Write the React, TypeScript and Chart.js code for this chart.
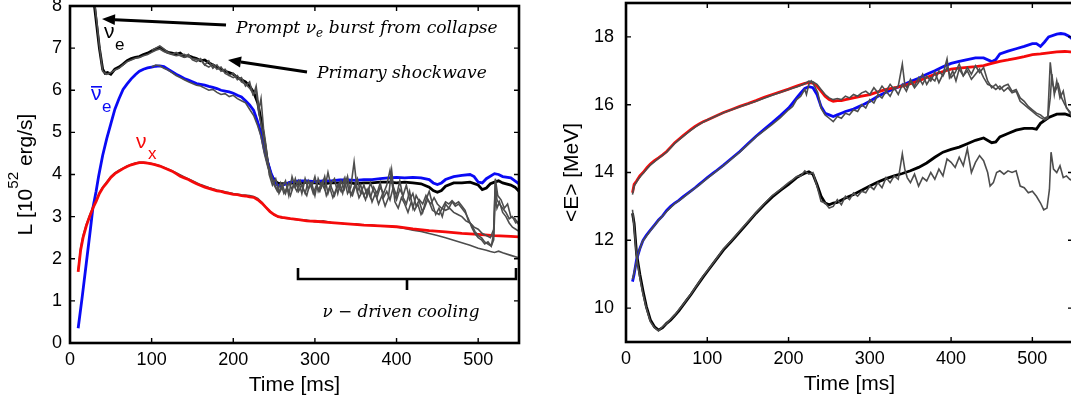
import React, { useEffect, useRef } from "react";
import { Chart, registerables } from "chart.js";

Chart.register(...registerables);

type Pt = [number, number];

// ---------- axes ----------
const X_MIN = 0;
const X_MAX = 550;
const X_TICKS = [0, 100, 200, 300, 400, 500];
const L_Y_MIN = 0;
const L_Y_MAX = 8;
const L_Y_TICKS = [0, 1, 2, 3, 4, 5, 6, 7, 8];
const R_Y_MIN = 9;
const R_Y_MAX = 19;
const R_Y_TICKS = [10, 12, 14, 16, 18];

// ---------- left panel: luminosity L [10^52 erg/s] ----------
const L_NUE: Pt[] = [[28,8.6],[30,8.0],[33,7.5],[36,7.0],[40,6.5],[43,6.4],[46,6.42],[50,6.38],[55,6.5],[60,6.55],[65,6.62],[70,6.7],[75,6.75],[80,6.78],[85,6.8],[90,6.85],[95,6.88],[100,6.93],[105,6.98],[110,7.02],[115,6.95],[120,6.9],[125,6.88],[130,6.85],[135,6.88],[140,6.8],[145,6.82],[150,6.78],[155,6.75],[160,6.7],[165,6.72],[170,6.65],[175,6.6],[180,6.55],[185,6.5],[190,6.45],[195,6.42],[200,6.38],[205,6.3],[210,6.25],[215,6.2],[220,6.1],[225,5.95],[230,5.7],[234,5.3],[238,4.8],[242,4.3],[246,4.0],[250,3.88],[254,3.8],[258,3.78],[262,3.78],[270,3.8],[280,3.78],[290,3.82],[300,3.8],[310,3.78],[320,3.8],[330,3.8],[340,3.82],[350,3.78],[360,3.8],[370,3.8],[380,3.82],[390,3.82],[400,3.8],[410,3.82],[420,3.8],[430,3.78],[440,3.7],[445,3.62],[450,3.58],[455,3.62],[460,3.72],[470,3.8],[480,3.8],[490,3.82],[500,3.75],[505,3.64],[510,3.68],[515,3.78],[520,3.82],[525,3.85],[530,3.8],[540,3.75],[545,3.7],[550,3.6]];

const L_NUEBAR: Pt[] = [[10,0.35],[15,1.1],[20,1.9],[25,2.7],[28,3.2],[32,3.6],[35,3.95],[40,4.45],[45,4.85],[50,5.2],[55,5.55],[60,5.8],[65,6.02],[70,6.15],[75,6.27],[80,6.37],[85,6.45],[90,6.5],[95,6.53],[100,6.55],[105,6.57],[110,6.58],[115,6.56],[120,6.5],[125,6.44],[130,6.38],[135,6.33],[140,6.28],[145,6.24],[150,6.2],[155,6.16],[160,6.14],[165,6.12],[170,6.09],[175,6.07],[180,6.04],[185,6.0],[190,5.98],[195,5.96],[200,5.93],[205,5.88],[210,5.84],[215,5.75],[220,5.65],[225,5.52],[230,5.24],[234,4.98],[238,4.6],[242,4.3],[246,4.05],[250,3.85],[254,3.75],[258,3.72],[262,3.76],[270,3.82],[280,3.85],[290,3.85],[300,3.83],[310,3.85],[320,3.85],[330,3.87],[340,3.87],[350,3.86],[360,3.88],[370,3.88],[380,3.9],[390,3.92],[400,3.93],[410,3.92],[420,3.93],[430,3.92],[440,3.88],[445,3.8],[450,3.76],[455,3.8],[460,3.88],[470,3.95],[480,3.98],[490,4.0],[495,3.95],[500,3.82],[505,3.8],[510,3.9],[520,4.02],[525,4.0],[530,3.95],[540,3.92],[545,3.85],[550,3.78]];

const L_NUX: Pt[] = [[10,1.69],[13,2.2],[16,2.5],[20,2.78],[24,3.0],[28,3.2],[32,3.36],[36,3.55],[40,3.68],[45,3.8],[50,3.93],[55,4.02],[60,4.08],[65,4.14],[70,4.19],[75,4.23],[80,4.26],[85,4.28],[90,4.28],[95,4.27],[100,4.25],[105,4.23],[110,4.2],[115,4.16],[120,4.12],[125,4.08],[130,4.02],[135,3.96],[140,3.92],[145,3.88],[150,3.83],[155,3.78],[160,3.74],[165,3.7],[170,3.67],[175,3.64],[180,3.61],[185,3.6],[190,3.57],[195,3.55],[200,3.53],[205,3.52],[210,3.5],[215,3.49],[220,3.47],[225,3.46],[230,3.4],[235,3.32],[240,3.22],[245,3.12],[250,3.05],[255,3.0],[260,2.98],[270,2.95],[280,2.93],[290,2.9],[300,2.89],[320,2.86],[340,2.83],[360,2.8],[380,2.78],[400,2.76],[420,2.71],[440,2.67],[460,2.64],[480,2.6],[500,2.58],[520,2.55],[540,2.53],[550,2.52]];

// other models (gray)
const L_G_NUE_A: Pt[] = [[30,8.1],[33,7.6],[36,7.05],[40,6.45],[45,6.38],[50,6.42],[55,6.48],[60,6.52],[65,6.6],[70,6.68],[75,6.72],[80,6.76],[85,6.78],[90,6.82],[95,6.85],[100,6.9],[105,6.95],[110,6.98],[115,6.92],[120,6.88],[130,6.82],[140,6.85],[150,6.75],[160,6.72],[165,6.6],[170,6.55],[175,6.62],[180,6.5],[185,6.55],[190,6.4],[200,6.3],[205,6.35],[210,6.2],[215,6.15],[220,6.05],[225,5.9],[228,6.1],[230,5.8],[232,5.4],[236,5.0],[240,4.5],[244,4.15],[248,3.9],[252,3.7],[256,3.6],[260,3.75],[264,3.55],[268,3.8],[272,3.65],[276,3.9],[280,3.6],[284,3.75],[288,3.55],[292,3.85],[296,3.7],[300,3.95],[304,3.6],[308,3.8],[312,3.65],[316,4.05],[320,3.7],[324,3.5],[328,3.75],[332,3.6],[336,3.9],[340,3.55],[344,3.7],[348,4.3],[352,3.6],[356,3.75],[360,3.5],[364,3.65],[368,3.45],[372,3.7],[376,3.55],[380,3.8],[384,3.45],[388,3.6],[392,3.4],[396,3.7],[400,3.5],[404,3.85],[408,3.45],[412,3.3],[416,3.6],[420,3.2],[424,3.5],[428,3.35],[432,3.1],[436,3.4],[440,3.6],[444,3.3],[448,3.05],[452,3.2],[456,3.0],[460,3.3],[464,3.2],[468,3.35],[472,3.25],[476,3.3],[480,3.2],[484,3.1],[488,2.95],[492,2.75],[496,2.6],[500,2.5],[504,2.45],[508,2.35],[512,2.4],[516,2.3],[519,2.6],[521,3.8],[523,3.4],[526,3.3],[530,3.2],[534,3.1],[538,2.95],[542,3.0],[546,2.85],[550,2.9]];

const L_G_NUE_B: Pt[] = [[100,6.95],[105,7.0],[110,7.05],[115,6.98],[120,6.9],[125,6.85],[130,6.9],[135,6.82],[140,6.78],[145,6.85],[150,6.72],[155,6.68],[160,6.75],[165,6.6],[170,6.7],[175,6.52],[180,6.6],[185,6.45],[190,6.5],[195,6.35],[200,6.4],[205,6.25],[210,6.3],[215,6.1],[220,6.2],[224,5.9],[228,6.0],[231,5.5],[234,5.8],[237,5.1],[240,4.7],[244,4.0],[248,3.75],[252,3.9],[256,3.55],[260,3.7],[264,3.85],[268,3.5],[272,3.95],[276,3.7],[280,3.85],[284,3.55],[288,3.9],[292,3.65],[296,3.8],[300,3.5],[304,3.9],[308,3.7],[312,3.95],[316,3.55],[320,3.8],[324,3.9],[328,3.55],[332,3.85],[336,3.65],[340,3.95],[344,3.5],[348,3.7],[352,3.9],[356,3.55],[360,3.75],[364,3.5],[368,3.8],[372,3.6],[376,3.45],[380,3.7],[384,3.55],[388,3.75],[392,4.1],[396,3.6],[400,3.4],[404,3.65],[408,3.5],[412,3.75],[416,3.4],[420,3.55],[424,3.25],[428,3.4],[432,3.3],[436,3.5],[440,3.35],[444,3.15],[448,3.1],[452,3.05],[456,3.2],[460,3.35],[464,3.3],[468,3.38],[472,3.3],[476,3.35],[480,3.25],[484,3.15],[488,2.9],[492,2.8],[496,2.65],[500,2.55],[504,2.5],[508,2.4],[512,2.35],[516,2.3],[519,2.45],[521,3.5],[523,3.2],[526,3.35],[530,3.1],[534,3.0],[538,2.85],[542,2.75],[546,2.7],[550,2.65]];

const L_G_NUEBAR: Pt[] = [[100,6.55],[105,6.6],[110,6.58],[115,6.52],[120,6.48],[125,6.42],[130,6.35],[135,6.3],[140,6.25],[145,6.2],[150,6.16],[155,6.12],[160,6.1],[165,6.05],[170,6.0],[175,6.02],[180,5.95],[185,5.9],[190,5.92],[195,5.85],[200,5.88],[205,5.8],[210,5.75],[215,5.7],[220,5.55],[225,5.4],[230,5.15],[234,4.9],[238,4.5],[242,4.2],[246,3.95],[250,3.75],[254,3.6],[258,3.8],[262,3.55],[266,3.7],[270,3.5],[274,3.75],[278,3.6],[282,3.85],[286,3.65],[290,3.5],[294,3.8],[298,3.55],[302,3.75],[306,3.6],[310,3.85],[314,3.5],[318,3.7],[322,3.45],[326,3.65],[330,3.8],[334,3.55],[338,3.9],[342,3.6],[346,3.5],[350,3.75],[354,3.45],[358,3.6],[362,3.4],[366,3.65],[370,3.35],[374,3.55],[378,3.3],[382,3.5],[386,3.25],[390,3.45],[394,4.1],[398,3.35],[402,3.2],[406,3.45],[410,3.3],[414,3.1],[418,3.35],[422,3.15],[426,3.3],[430,3.05],[434,3.2],[438,3.4],[442,3.3],[446,3.45],[450,3.3],[455,3.2],[460,3.15],[465,3.2],[470,3.1],[475,3.05],[480,3.0],[485,2.9],[490,2.85],[495,2.75],[500,2.7],[505,2.6],[510,2.55],[515,2.5],[519,2.7],[521,3.9],[524,3.5],[528,3.4],[532,3.2],[536,3.3],[540,3.0],[545,2.95],[550,2.8]];

const L_G_NUX: Pt[] = [[10,1.72],[13,2.25],[16,2.55],[20,2.82],[24,3.03],[28,3.22],[32,3.38],[36,3.56],[40,3.7],[45,3.82],[50,3.95],[55,4.04],[60,4.1],[65,4.15],[70,4.2],[75,4.24],[80,4.27],[85,4.29],[90,4.29],[95,4.28],[100,4.26],[110,4.21],[120,4.13],[130,4.04],[140,3.94],[150,3.85],[160,3.76],[170,3.69],[180,3.63],[190,3.59],[200,3.55],[210,3.52],[220,3.5],[225,3.48],[230,3.43],[235,3.34],[240,3.22],[245,3.12],[250,3.04],[255,3.0],[260,2.97],[270,2.95],[280,2.92],[290,2.92],[300,2.88],[310,2.9],[320,2.86],[330,2.85],[340,2.82],[350,2.83],[360,2.8],[370,2.8],[380,2.77],[390,2.78],[400,2.75],[410,2.72],[420,2.68],[430,2.65],[440,2.6],[450,2.55],[460,2.5],[470,2.44],[480,2.38],[490,2.32],[500,2.25],[510,2.2],[515,2.17],[520,2.15],[525,2.18],[530,2.14],[540,2.08],[550,2.02]];

// ---------- right panel: mean energy <E> [MeV] ----------
const R_NUX: Pt[] = [[8,13.4],[10,13.65],[13,13.75],[17,13.9],[21,14.0],[26,14.15],[30,14.25],[35,14.35],[40,14.43],[45,14.52],[50,14.62],[55,14.75],[60,14.88],[65,14.98],[70,15.08],[75,15.18],[80,15.27],[85,15.36],[90,15.43],[95,15.5],[100,15.55],[110,15.66],[120,15.77],[130,15.86],[140,15.95],[150,16.03],[160,16.12],[170,16.22],[180,16.3],[190,16.38],[200,16.46],[210,16.55],[220,16.63],[225,16.65],[230,16.64],[235,16.55],[240,16.4],[245,16.25],[250,16.15],[255,16.1],[260,16.12],[265,16.12],[270,16.15],[280,16.2],[290,16.25],[300,16.3],[310,16.38],[320,16.45],[330,16.5],[340,16.55],[350,16.62],[360,16.7],[370,16.8],[380,16.9],[390,16.98],[400,17.05],[410,17.08],[420,17.1],[430,17.12],[440,17.15],[450,17.22],[460,17.28],[470,17.32],[480,17.37],[490,17.42],[500,17.48],[510,17.5],[520,17.53],[530,17.56],[540,17.57],[550,17.55]];

const R_NUEBAR: Pt[] = [[8,10.78],[10,11.0],[13,11.43],[17,11.75],[21,12.0],[25,12.15],[30,12.3],[35,12.45],[40,12.6],[45,12.72],[50,12.88],[55,13.0],[60,13.1],[65,13.18],[70,13.28],[75,13.37],[80,13.46],[85,13.55],[90,13.65],[95,13.75],[100,13.85],[110,14.03],[120,14.22],[130,14.42],[140,14.62],[150,14.85],[160,15.07],[170,15.27],[180,15.47],[190,15.68],[200,15.9],[205,16.05],[210,16.2],[215,16.35],[220,16.48],[225,16.53],[230,16.5],[235,16.3],[240,15.95],[245,15.75],[250,15.7],[255,15.65],[260,15.7],[265,15.75],[270,15.8],[280,15.87],[290,15.98],[300,16.1],[310,16.25],[320,16.37],[330,16.47],[340,16.57],[350,16.68],[360,16.78],[370,16.9],[380,17.0],[390,17.12],[400,17.22],[410,17.28],[420,17.33],[430,17.38],[440,17.38],[450,17.27],[455,17.33],[460,17.5],[470,17.58],[480,17.65],[490,17.72],[500,17.8],[505,17.8],[510,17.72],[515,17.85],[520,18.0],[530,18.08],[535,18.1],[540,18.08],[545,18.02],[550,17.92]];

const R_NUE: Pt[] = [[8,12.8],[10,12.5],[13,11.6],[17,11.0],[21,10.5],[25,10.05],[30,9.65],[35,9.45],[40,9.35],[45,9.42],[50,9.55],[55,9.65],[60,9.78],[65,9.92],[70,10.08],[75,10.24],[80,10.4],[85,10.58],[90,10.75],[95,10.92],[100,11.08],[110,11.4],[120,11.72],[130,11.98],[140,12.25],[150,12.52],[160,12.8],[170,13.05],[180,13.28],[190,13.47],[200,13.65],[210,13.85],[215,13.92],[220,13.98],[225,14.02],[230,13.95],[235,13.65],[240,13.3],[245,13.1],[250,13.05],[255,13.1],[260,13.12],[270,13.25],[280,13.35],[290,13.48],[300,13.6],[310,13.72],[320,13.82],[330,13.9],[340,13.97],[350,14.05],[360,14.15],[370,14.28],[380,14.45],[390,14.6],[400,14.68],[410,14.75],[420,14.85],[430,14.95],[440,15.02],[450,14.88],[455,14.9],[460,15.05],[470,15.15],[480,15.25],[490,15.3],[500,15.3],[505,15.28],[510,15.45],[520,15.62],[530,15.72],[540,15.73],[550,15.65]];

const R_G_UPPER_A: Pt[] = [[8,13.35],[10,13.6],[15,13.8],[20,13.95],[30,14.22],[40,14.42],[50,14.6],[60,14.86],[70,15.06],[80,15.25],[90,15.42],[100,15.55],[120,15.76],[140,15.94],[160,16.1],[180,16.28],[200,16.45],[210,16.52],[220,16.62],[225,16.7],[230,16.68],[235,16.6],[240,16.45],[245,16.3],[250,16.2],[255,16.15],[260,16.18],[265,16.15],[270,16.25],[275,16.2],[280,16.3],[285,16.25],[290,16.35],[295,16.4],[300,16.3],[305,16.5],[310,16.35],[315,16.55],[320,16.4],[325,16.6],[330,16.45],[335,16.55],[340,17.2],[343,16.6],[346,16.5],[350,16.75],[355,16.55],[360,16.8],[365,16.6],[370,16.85],[375,16.7],[380,16.95],[385,16.65],[390,16.9],[395,17.35],[398,16.8],[402,17.0],[406,16.7],[410,17.05],[415,16.85],[420,17.1],[425,16.9],[430,17.15],[435,16.95],[440,17.1],[445,16.7],[450,16.5],[455,16.6],[460,16.45],[465,16.55],[470,16.6],[475,16.4],[480,16.45],[485,16.2],[490,16.1],[495,15.95],[500,15.85],[505,15.75],[510,15.7],[515,15.6],[519,15.65],[522,17.25],[525,16.6],[528,16.4],[532,16.6],[536,16.2],[540,16.0],[545,15.8],[550,15.6]];

const R_G_UPPER_B: Pt[] = [[8,10.85],[10,11.05],[15,11.6],[20,11.95],[30,12.28],[40,12.58],[50,12.85],[60,13.08],[70,13.25],[80,13.45],[90,13.63],[100,13.83],[120,14.2],[140,14.6],[160,15.05],[180,15.42],[190,15.62],[200,15.85],[205,15.95],[210,16.15],[215,16.25],[220,16.45],[222,16.3],[225,16.6],[228,16.7],[232,16.55],[236,16.35],[240,15.9],[245,15.7],[250,15.6],[255,15.5],[260,15.65],[265,15.6],[270,15.75],[275,15.7],[280,15.85],[285,15.8],[290,16.0],[295,15.9],[300,16.15],[305,16.05],[310,16.3],[315,16.2],[320,16.4],[325,16.25],[330,16.5],[335,16.3],[340,16.6],[345,16.4],[350,16.7],[355,16.5],[360,16.65],[365,16.9],[370,16.6],[375,16.8],[380,16.7],[385,17.0],[390,16.85],[395,17.1],[400,16.8],[405,16.95],[410,17.2],[415,16.85],[420,17.0],[425,16.75],[430,16.9],[435,17.05],[440,16.8],[445,16.6],[450,16.55],[455,16.45],[460,16.55],[465,16.4],[470,16.5],[475,16.35],[480,16.4],[485,16.1],[490,16.0],[495,15.9],[500,15.8],[505,15.7],[510,15.62],[515,15.55],[519,15.6],[522,16.2],[524,16.9],[527,16.3],[530,16.7],[534,16.2],[538,16.4],[542,15.9],[546,15.8],[550,15.7]];

const R_G_LOWER: Pt[] = [[8,12.9],[10,12.4],[13,11.5],[17,10.9],[21,10.4],[25,10.0],[30,9.6],[35,9.42],[40,9.33],[45,9.45],[50,9.55],[55,9.68],[60,9.8],[65,9.95],[70,10.1],[75,10.26],[80,10.42],[85,10.6],[90,10.77],[95,10.95],[100,11.1],[110,11.42],[120,11.75],[130,12.0],[140,12.28],[150,12.55],[160,12.82],[170,13.08],[180,13.32],[190,13.5],[200,13.7],[205,13.78],[210,13.88],[215,13.9],[220,14.05],[225,13.95],[230,14.0],[235,13.6],[240,13.15],[245,13.1],[250,12.95],[255,13.0],[260,13.2],[265,13.05],[270,13.3],[275,13.2],[280,13.4],[285,13.3],[290,13.45],[295,13.4],[300,13.6],[305,13.5],[310,13.7],[315,13.55],[320,13.85],[325,13.7],[330,13.9],[335,13.8],[340,14.55],[343,14.1],[346,13.85],[350,13.7],[355,13.95],[360,13.6],[365,13.85],[370,13.75],[375,14.0],[380,13.8],[385,14.1],[390,13.9],[395,14.4],[400,14.3],[405,14.15],[410,14.45],[415,14.2],[420,14.7],[425,14.0],[430,14.3],[435,14.5],[440,14.35],[445,14.0],[448,13.6],[452,13.7],[456,14.0],[460,14.05],[465,13.95],[470,14.05],[475,14.0],[480,14.05],[485,13.6],[490,13.55],[495,13.4],[500,13.45],[505,13.3],[510,13.1],[514,12.9],[518,12.95],[521,13.5],[523,14.6],[526,14.1],[530,14.0],[534,14.2],[538,13.85],[542,13.9],[546,13.8],[550,13.75]];

// ---------- styling ----------
const SANS = "'Liberation Sans', Arial, Helvetica, sans-serif";
const SERIF = "'DejaVu Serif', 'Liberation Serif', serif";
const BLACK = "#000000";
const BLUE = "#0a0af5";
const RED = "#f50a0a";
const GRAY = "#4d4d4d";

type Part = { t: string; sub?: boolean; sup?: boolean };

function fontStr(style: string, size: number, family: string) {
  return `${style ? style + " " : ""}${size}px ${family}`;
}

function drawParts(
  ctx: CanvasRenderingContext2D,
  parts: Part[],
  x: number,
  y: number,
  size: number,
  family: string,
  style: string,
  align: "left" | "center",
  targetWidth?: number,
  smallScale = 0.72,
  supRaise = 0.62,
  subDrop = 0.28
) {
  const measure = (s: number) =>
    parts.reduce((w, p) => {
      const ps = p.sub || p.sup ? s * smallScale : s;
      ctx.font = fontStr(style, ps, family);
      return w + ctx.measureText(p.t).width;
    }, 0);
  let s = size;
  if (targetWidth) s = (size * targetWidth) / measure(size);
  const total = measure(s);
  let cx = align === "center" ? x - total / 2 : x;
  ctx.textAlign = "left";
  ctx.textBaseline = "alphabetic";
  for (const p of parts) {
    const ps = p.sub || p.sup ? s * smallScale : s;
    ctx.font = fontStr(style, ps, family);
    const dy = p.sub ? s * subDrop : p.sup ? -s * supRaise : 0;
    ctx.fillText(p.t, cx, y + dy);
    cx += ctx.measureText(p.t).width;
  }
}

function arrow(ctx: CanvasRenderingContext2D, x1: number, y1: number, x2: number, y2: number) {
  const ang = Math.atan2(y2 - y1, x2 - x1);
  const hl = 13;
  const hw = 5.5;
  const bx = x2 - hl * Math.cos(ang);
  const by = y2 - hl * Math.sin(ang);
  ctx.beginPath();
  ctx.moveTo(x1, y1);
  ctx.lineTo(bx, by);
  ctx.lineWidth = 3;
  ctx.stroke();
  ctx.beginPath();
  ctx.moveTo(x2, y2);
  ctx.lineTo(bx + hw * Math.sin(ang), by - hw * Math.cos(ang));
  ctx.lineTo(bx - hw * Math.sin(ang), by + hw * Math.cos(ang));
  ctx.closePath();
  ctx.fill();
}

const framePlugin = {
  id: "matlabFrame",
  afterDraw(chart: any) {
    const { ctx, chartArea: a, scales } = chart;
    const xs = scales.x;
    const ys = scales.y;
    ctx.save();
    ctx.strokeStyle = "#000";
    ctx.lineWidth = 1.4;
    const tl = 5;
    ctx.beginPath();
    for (const t of xs.ticks) {
      const px = xs.getPixelForValue(t.value);
      ctx.moveTo(px, a.bottom);
      ctx.lineTo(px, a.bottom - tl);
      ctx.moveTo(px, a.top);
      ctx.lineTo(px, a.top + tl);
    }
    for (const t of ys.ticks) {
      const py = ys.getPixelForValue(t.value);
      ctx.moveTo(a.left, py);
      ctx.lineTo(a.left + tl, py);
      ctx.moveTo(a.right, py);
      ctx.lineTo(a.right - tl, py);
    }
    ctx.stroke();
    ctx.lineWidth = 2.6;
    ctx.strokeRect(a.left, a.top, a.right - a.left, a.bottom - a.top);
    ctx.restore();
  },
};

function ds(data: Pt[], color: string, width: number, order: number) {
  return {
    data: data.map(([x, y]) => ({ x, y })),
    borderColor: color,
    backgroundColor: color,
    borderWidth: width,
    pointRadius: 0,
    tension: 0,
    fill: false,
    order,
  };
}

function makeConfig(opts: {
  datasets: any[];
  yMin: number;
  yMax: number;
  yTicks: number[];
  top: number;
  right: number;
  xHeight: number;
  yWidth: number;
  yPad: number;
  annotate: (ctx: CanvasRenderingContext2D, chart: any) => void;
}): any {
  const tickFont = { size: 18, family: SANS };
  return {
    type: "line",
    data: { datasets: opts.datasets },
    options: {
      animation: false,
      responsive: false,
      maintainAspectRatio: false,
      layout: { padding: { left: 0, top: opts.top, right: opts.right, bottom: 0 } },
      plugins: { legend: { display: false }, tooltip: { enabled: false } },
      scales: {
        x: {
          type: "linear",
          min: X_MIN,
          max: X_MAX,
          grid: { display: false, drawTicks: false },
          border: { display: false },
          ticks: { font: tickFont, color: "#000", padding: 6, maxRotation: 0, autoSkip: false },
          afterBuildTicks: (s: any) => {
            s.ticks = X_TICKS.map((v) => ({ value: v }));
          },
          afterFit: (s: any) => {
            s.height = opts.xHeight;
            s.paddingLeft = 0;
            s.paddingRight = 0;
          },
        },
        y: {
          type: "linear",
          min: opts.yMin,
          max: opts.yMax,
          grid: { display: false, drawTicks: false },
          border: { display: false },
          ticks: { font: tickFont, color: "#000", padding: opts.yPad, autoSkip: false },
          afterBuildTicks: (s: any) => {
            s.ticks = opts.yTicks.map((v) => ({ value: v }));
          },
          afterFit: (s: any) => {
            s.width = opts.yWidth;
            s.paddingTop = 0;
            s.paddingBottom = 0;
          },
        },
      },
    },
    plugins: [
      framePlugin,
      {
        id: "annot",
        afterDraw(chart: any) {
          const ctx = chart.ctx as CanvasRenderingContext2D;
          ctx.save();
          opts.annotate(ctx, chart);
          ctx.restore();
        },
      },
    ],
  };
}

function annotateLeft(ctx: CanvasRenderingContext2D, chart: any) {
  const a = chart.chartArea;
  ctx.fillStyle = "#000";
  ctx.strokeStyle = "#000";
  // axis titles
  drawParts(ctx, [{ t: "Time [ms]" }], (a.left + a.right) / 2, 391, 21, SANS, "", "center");
  ctx.save();
  ctx.translate(24, (a.top + a.bottom) / 2);
  ctx.rotate(-Math.PI / 2);
  drawParts(ctx, [{ t: "L [10" }, { t: "52", sup: true }, { t: " erg/s]" }], 0, 7.5, 21, SANS, "", "center");
  ctx.restore();

  // arrows and notes
  arrow(ctx, 226, 25, 102, 19);
  arrow(ctx, 307, 72, 228, 60);
  drawParts(
    ctx,
    [{ t: "Prompt ν" }, { t: "e", sub: true }, { t: " burst from collapse" }],
    236, 33, 16, SERIF, "italic", "left", 262, 0.7, 0.6, 0.22
  );
  drawParts(ctx, [{ t: "Primary shockwave" }], 317, 78, 16, SERIF, "italic", "left", 170);

  // brace
  ctx.lineWidth = 2.6;
  ctx.beginPath();
  ctx.moveTo(298, 268);
  ctx.lineTo(298, 279);
  ctx.lineTo(516, 279);
  ctx.lineTo(516, 268);
  ctx.moveTo(407, 279);
  ctx.lineTo(407, 290);
  ctx.stroke();
  drawParts(ctx, [{ t: "ν − driven cooling" }], 401, 317, 16, SERIF, "italic", "center", 157);

  // flavour labels
  ctx.fillStyle = BLACK;
  drawParts(ctx, [{ t: "ν" }], 104, 38, 21, SANS, "", "left");
  drawParts(ctx, [{ t: "e" }], 115, 50, 17, SANS, "", "left");
  ctx.fillStyle = BLUE;
  drawParts(ctx, [{ t: "ν" }], 91, 100, 21, SANS, "", "left");
  ctx.fillRect(91, 86, 11, 1.6);
  drawParts(ctx, [{ t: "e" }], 102, 112, 17, SANS, "", "left");
  ctx.fillStyle = RED;
  drawParts(ctx, [{ t: "ν" }], 136, 148, 21, SANS, "", "left");
  drawParts(ctx, [{ t: "x" }], 148, 159, 17, SANS, "", "left");
}

function annotateRight(ctx: CanvasRenderingContext2D, chart: any) {
  const a = chart.chartArea;
  ctx.fillStyle = "#000";
  drawParts(ctx, [{ t: "Time [ms]" }], (a.left + a.right) / 2, 390, 21, SANS, "", "center");
  ctx.save();
  ctx.translate(20, (a.top + a.bottom) / 2);
  ctx.rotate(-Math.PI / 2);
  drawParts(ctx, [{ t: "<E> [MeV]" }], 0, 7.5, 21, SANS, "", "center");
  ctx.restore();
}

function leftConfig() {
  return makeConfig({
    datasets: [
      ds(L_G_NUE_A, GRAY, 1.6, 0),
      ds(L_G_NUE_B, GRAY, 1.6, 0),
      ds(L_G_NUEBAR, GRAY, 1.6, 0),
      ds(L_NUX, RED, 2.8, 1),
      ds(L_G_NUX, GRAY, 1.6, 2),
      ds(L_NUEBAR, BLUE, 2.8, 3),
      ds(L_NUE, BLACK, 2.8, 4),
    ],
    yMin: L_Y_MIN,
    yMax: L_Y_MAX,
    yTicks: L_Y_TICKS,
    top: 6,
    right: 11,
    xHeight: 59,
    yWidth: 70,
    yPad: 8,
    annotate: annotateLeft,
  });
}

function rightConfig() {
  return makeConfig({
    datasets: [
      ds(R_G_UPPER_A, GRAY, 1.6, 0),
      ds(R_G_UPPER_B, GRAY, 1.6, 0),
      ds(R_G_LOWER, GRAY, 1.6, 0),
      ds(R_NUX, RED, 2.8, 1),
      ds(R_NUEBAR, BLUE, 2.8, 2),
      ds(R_NUE, BLACK, 2.8, 3),
    ],
    yMin: R_Y_MIN,
    yMax: R_Y_MAX,
    yTicks: R_Y_TICKS,
    top: 3,
    right: 7,
    xHeight: 60,
    yWidth: 76,
    yPad: 12,
    annotate: annotateRight,
  });
}

function Panel({ build, left, width }: { build: () => any; left: number; width: number }) {
  const ref = useRef<HTMLCanvasElement>(null);
  useEffect(() => {
    if (!ref.current) return;
    const chart = new Chart(ref.current, build());
    return () => chart.destroy();
  }, []);
  return (
    <canvas
      ref={ref}
      width={width}
      height={402}
      style={{ position: "absolute", left, top: 0, width, height: 402 }}
    />
  );
}

export default function App() {
  return (
    <div
      style={{
        position: "fixed",
        left: 0,
        top: 0,
        width: 1071,
        height: 402,
        overflow: "hidden",
        background: "#ffffff",
      }}
    >
      <Panel build={leftConfig} left={0} width={530} />
      <Panel build={rightConfig} left={550} width={530} />
    </div>
  );
}
